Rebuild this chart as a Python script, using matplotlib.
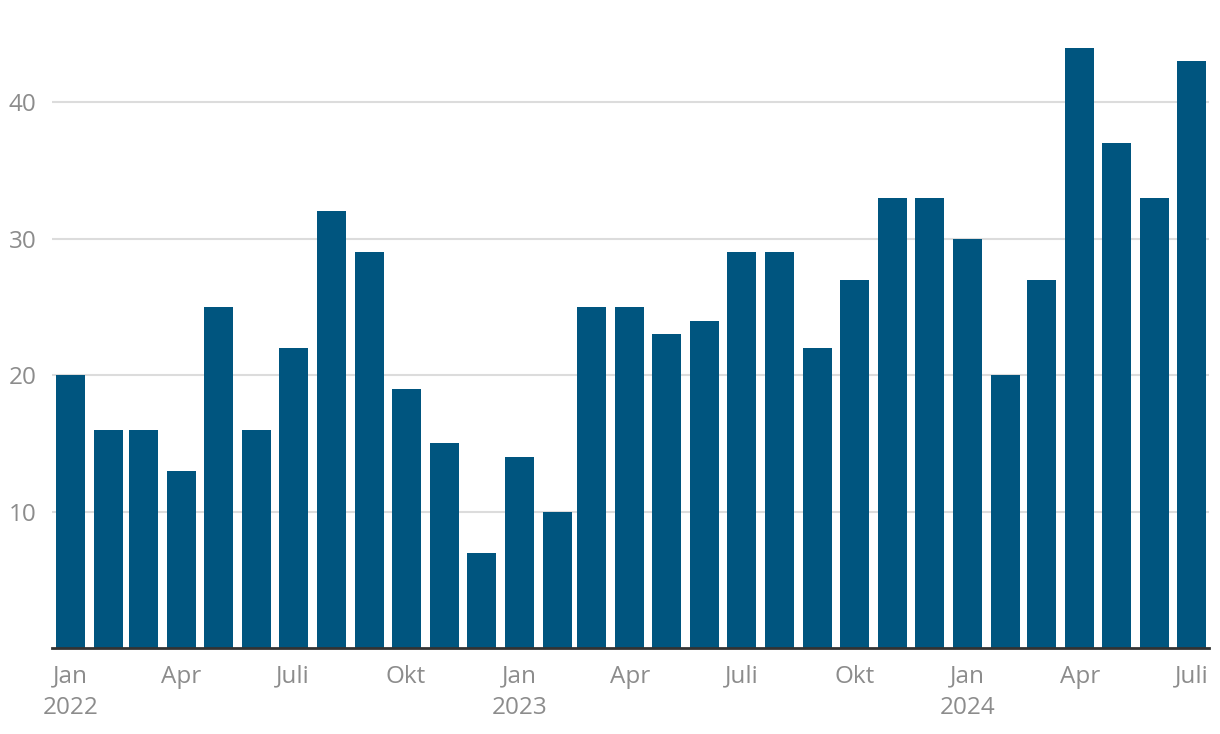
import datetime as dt

import matplotlib
matplotlib.use("Agg")
import matplotlib.pyplot as plt

# Monthly values, Jan 2022 - Jul 2024
months = [dt.date(2022 + (i // 12), i % 12 + 1, 1) for i in range(31)]
values = [20, 16, 16, 13, 25, 16, 22, 32, 29, 19, 15, 7,
          14, 10, 25, 25, 23, 24, 29, 29, 22, 27, 33, 33,
          30, 20, 27, 44, 37, 33, 43]
tick_months = [0, 3, 6, 9, 12, 15, 18, 21, 24, 27, 30]
tick_labels = ["Jan\n2022", "Apr", "Juli", "Okt", "Jan\n2023", "Apr", "Juli",
               "Okt", "Jan\n2024", "Apr", "Juli"]
y_ticks = [10, 20, 30, 40]

BAR = "#00557f"
GRID = "#dcdcdc"
TXT = "#8c8c8c"

plt.rcParams["font.family"] = ["Open Sans", "DejaVu Sans"]

start = months[0]
x = [(m - start).days for m in months]
bar_w = 23.6

fig = plt.figure(figsize=(12.2, 7.34), dpi=100)
ax = fig.add_axes([52 / 1220, 1 - 648 / 734, (1209 - 52) / 1220, 648 / 734])

ax.bar(x, values, width=bar_w, align="edge", color=BAR, zorder=3)

ax.set_xlim(-3.3, 938)
ax.set_ylim(0, 47.5)

ax.set_yticks(y_ticks)
ax.set_yticklabels([str(v) for v in y_ticks])
for v in y_ticks:
    ax.axhline(v, color=GRID, lw=1.5, zorder=1)

ax.set_xticks([x[i] + bar_w / 2 for i in tick_months])
ax.set_xticklabels(tick_labels, linespacing=1.4)

ax.tick_params(axis="both", length=0, labelsize=17.5, labelcolor=TXT)
ax.tick_params(axis="x", pad=12)
ax.tick_params(axis="y", pad=11)

for s in ["top", "right", "left"]:
    ax.spines[s].set_visible(False)
ax.spines["bottom"].set_color("#333333")
ax.spines["bottom"].set_linewidth(2)
ax.spines["bottom"].set_zorder(4)

fig.savefig("out.png", dpi=100)
